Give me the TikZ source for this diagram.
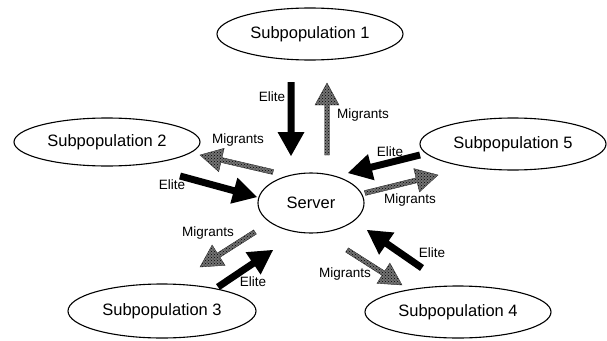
\documentclass[tikz,border=0pt]{standalone}
\usepackage{fontspec}
\setmainfont{Liberation Sans}
\usetikzlibrary{shapes.geometric,calc,patterns}
\newcommand\blockarr[6]{%
  \coordinate (hb) at ($(#3)!#6!(#2)$);
  \path[#1] ($(#2)!#4!90:(#3)$) -- ($(hb)!#4!90:(#3)$) -- ($(hb)!#5!90:(#3)$) -- (#3)
     -- ($(hb)!#5!-90:(#3)$) -- ($(hb)!#4!-90:(#3)$) -- ($(#2)!#4!-90:(#3)$) -- cycle;}
\tikzset{
  pop/.style={draw, ellipse, line width=1.1pt, minimum width=186pt, minimum height=52pt, inner sep=0pt, font=\fontsize{16.5}{18}\selectfont},
  lbl/.style={font=\fontsize{13.5}{15}\selectfont, inner sep=0pt},
  elite/.style={fill=black},
  migr/.style={preaction={fill=black!55}, pattern=crosshatch dots, pattern color=black, draw=black!80, line width=0.4pt},
}
\begin{document}
\begin{tikzpicture}[x=1pt,y=-1pt]
\useasboundingbox (0,0) rectangle (607,340);
\node[pop] (s1) at (310,34) {Subpopulation 1};
\node[pop, minimum height=48pt] (s2) at (107,142) {Subpopulation 2};
\node[pop] (s5) at (513,144) {Subpopulation 5};
\node[pop, minimum width=106pt, minimum height=60pt] (srv) at (311,203) {Server};
\node[pop, minimum width=188pt, minimum height=54pt] (s3) at (162,311) {Subpopulation 3};
\node[pop] (s4) at (458,312) {Subpopulation 4};
% arrow end points
\coordinate (e1a) at (291,82);  \coordinate (e1b) at (291,156);
\coordinate (m1a) at (327,155); \coordinate (m1b) at (327,83);
\coordinate (m2a) at (273,172); \coordinate (m2b) at (200,155);
\coordinate (e2a) at (180,176); \coordinate (e2b) at (257,197);
\coordinate (e5a) at (420,155); \coordinate (e5b) at (348,173);
\coordinate (m5a) at (365,193); \coordinate (m5b) at (438,175);
\coordinate (m3a) at (255,232); \coordinate (m3b) at (200,267);
\coordinate (e3a) at (218,287); \coordinate (e3b) at (273,250);
\coordinate (e4a) at (422,268); \coordinate (e4b) at (367,230);
\coordinate (m4a) at (347,250); \coordinate (m4b) at (402,285);
\blockarr{elite}{e1a}{e1b}{3.5pt}{13.5pt}{24pt}
\blockarr{elite}{e2a}{e2b}{3.5pt}{13.5pt}{24pt}
\blockarr{elite}{e5a}{e5b}{3.5pt}{13.5pt}{24pt}
\blockarr{elite}{e3a}{e3b}{3.5pt}{13.5pt}{24pt}
\blockarr{elite}{e4a}{e4b}{3.5pt}{13.5pt}{24pt}
\blockarr{migr}{m1a}{m1b}{2.5pt}{12pt}{22pt}
\blockarr{migr}{m2a}{m2b}{2.5pt}{12pt}{22pt}
\blockarr{migr}{m5a}{m5b}{2.5pt}{12pt}{22pt}
\blockarr{migr}{m3a}{m3b}{2.5pt}{12pt}{22pt}
\blockarr{migr}{m4a}{m4b}{2.5pt}{12pt}{22pt}
% labels
\node[lbl] (le1) at (272,97) {Elite};
\node[lbl] (lm1) at (363,115) {Migrants};
\node[lbl] (lm2) at (238,140) {Migrants};
\node[lbl] (le2) at (172,185) {Elite};
\node[lbl] (le5) at (390,152) {Elite};
\node[lbl] (lm5) at (410,200) {Migrants};
\node[lbl] (lm3) at (208,233) {Migrants};
\node[lbl] (le3) at (253,282) {Elite};
\node[lbl] (le4) at (432,253) {Elite};
\node[lbl] (lm4) at (345,274) {Migrants};
\end{tikzpicture}
\end{document}
